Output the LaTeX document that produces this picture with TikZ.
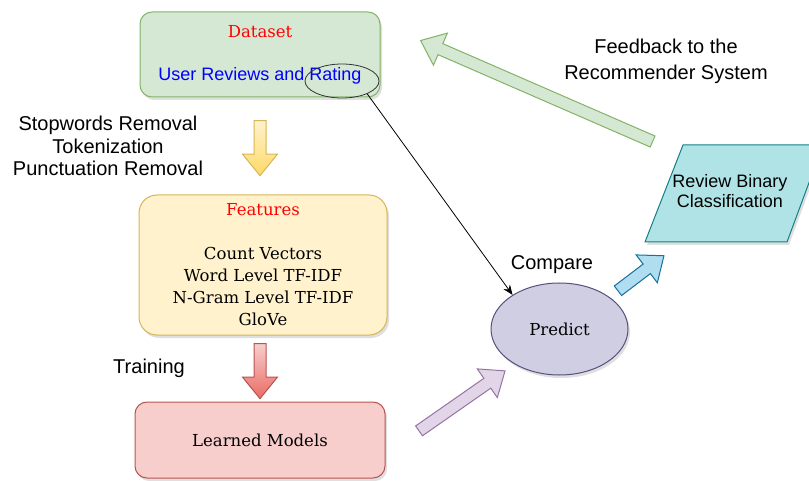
\documentclass[tikz,border=0pt]{standalone}
\usepackage{fontspec}
\setmainfont{DejaVu Serif}
\newfontfamily\labelfont{Liberation Sans}
\usetikzlibrary{calc, shapes.geometric, shapes.arrows, shadows, arrows.meta}

\definecolor{greenfill}{HTML}{D5E8D4}
\definecolor{greenline}{HTML}{82B366}
\definecolor{yellowfill}{HTML}{FFF2CC}
\definecolor{yellowdark}{HTML}{FFD966}
\definecolor{yellowline}{HTML}{D6B656}
\definecolor{redfill}{HTML}{F8CECC}
\definecolor{reddark}{HTML}{EA6B66}
\definecolor{redline}{HTML}{B85450}
\definecolor{lilacfill}{HTML}{E1D5E7}
\definecolor{lilacline}{HTML}{9673A6}
\definecolor{predfill}{HTML}{D0CEE2}
\definecolor{predline}{HTML}{56517E}
\definecolor{bluefill}{HTML}{B1DDF0}
\definecolor{blueline}{HTML}{10739E}
\definecolor{tealfill}{HTML}{B0E3E6}
\definecolor{tealline}{HTML}{0E8088}

\tikzset{
  box/.style={rectangle, rounded corners=12pt, line width=1pt, align=center,
    font=\fontsize{16.5}{22}\selectfont,
    drop shadow={shadow xshift=2pt, shadow yshift=-3pt, opacity=0.25}},
  plain/.style={font=\labelfont\fontsize{20}{22.5}\selectfont, align=center},
  arrowbody/.style={single arrow, minimum width=34pt, single arrow head extend=11.5pt,
    single arrow tip angle=78, inner xsep=0pt, inner ysep=5.5pt, line width=1pt},
}

% #1 name, #2 tail, #3 tip, #4 colours
\newcommand{\fatarrow}[4]{%
  \path let \p1=($(#3)-(#2)$), \n1={atan2(\y1,\x1)}, \n2={veclen(\x1,\y1)} in
    node[arrowbody, #4, rotate=\n1, minimum height=\n2] (#1) at ($(#2)!0.5!(#3)$) {};}

\begin{document}
\begin{tikzpicture}[x=1pt, y=-1pt]
        \clip (0,0) rectangle (809,481);

        \coordinate (Y1) at (260,117);
        \coordinate (Y2) at (260,172);
        \coordinate (R1) at (260,340);
        \coordinate (R2) at (260,395);
        \coordinate (P1) at (416,433);
        \coordinate (P2) at (502,373);
        \coordinate (B1) at (615,293);
        \coordinate (B2) at (661,258);
        \coordinate (G1) at (656,143);
        \coordinate (G2) at (424,42);

        \node[box, fill=greenfill, draw=greenline, minimum width=240pt, minimum height=85pt]
            (dataset) at (260,54.5) {\textcolor{red}{Dataset}\\[21pt]
            {\labelfont\fontsize{18}{22}\selectfont\textcolor{blue}{User Reviews and Rating}}};
        \node[box, rounded corners=18pt, fill=yellowfill, draw=yellowline, minimum width=248pt,
            minimum height=140pt] (features) at (263,265)
            {\textcolor{red}{Features}\\[22pt] Count Vectors\\ Word Level TF-IDF\\
             N-Gram Level TF-IDF\\ GloVe};
        \node[box, fill=redfill, draw=redline, minimum width=250pt, minimum height=76pt]
            (models) at (260,440) {Learned Models};
        \node[box, ellipse, fill=predfill, draw=predline, minimum width=137pt, minimum height=92pt]
            (predict) at (559.5,329) {Predict};

        \filldraw[fill=tealfill, draw=tealline, line width=1pt,
            drop shadow={shadow xshift=2pt, shadow yshift=-3pt, opacity=0.25}]
            (683,145) -- (823,145) -- (787,242) -- (645,242) -- cycle;
        \node[plain, font=\labelfont\fontsize{18}{20.5}\selectfont] (binary) at (730,191)
            {Review Binary\\ Classification};

        \node[draw=black!80, ellipse, line width=0.8pt, minimum width=74pt, minimum height=34pt]
            (ring) at (342,81) {};
        \draw[line width=0.8pt, -{Stealth[length=10pt, width=8pt]}] (ring.-27) -- (predict.144);

        \fatarrow{prep}{Y1}{Y2}{draw=yellowline, top color=yellowfill, bottom color=yellowdark}
        \fatarrow{train}{R1}{R2}{draw=redline, top color=redfill, bottom color=reddark}
        \fatarrow{apply}{P1}{P2}{draw=lilacline, fill=lilacfill}
        \fatarrow{classify}{B1}{B2}{draw=blueline, fill=bluefill}
        \fatarrow{feedback}{G1}{G2}{draw=greenline, fill=greenfill}

        \node[plain] (cleaning) at (108,146) {Stopwords Removal\\ Tokenization\\ Punctuation Removal};
        \node[plain] (training) at (149,368) {Training};
        \node[plain] (compare) at (552,265) {Compare};
        \node[plain, font=\labelfont\fontsize{20}{26}\selectfont] (feedbacktxt) at (666,61)
            {Feedback to the\\ Recommender System};
    \end{tikzpicture}
\end{document}
